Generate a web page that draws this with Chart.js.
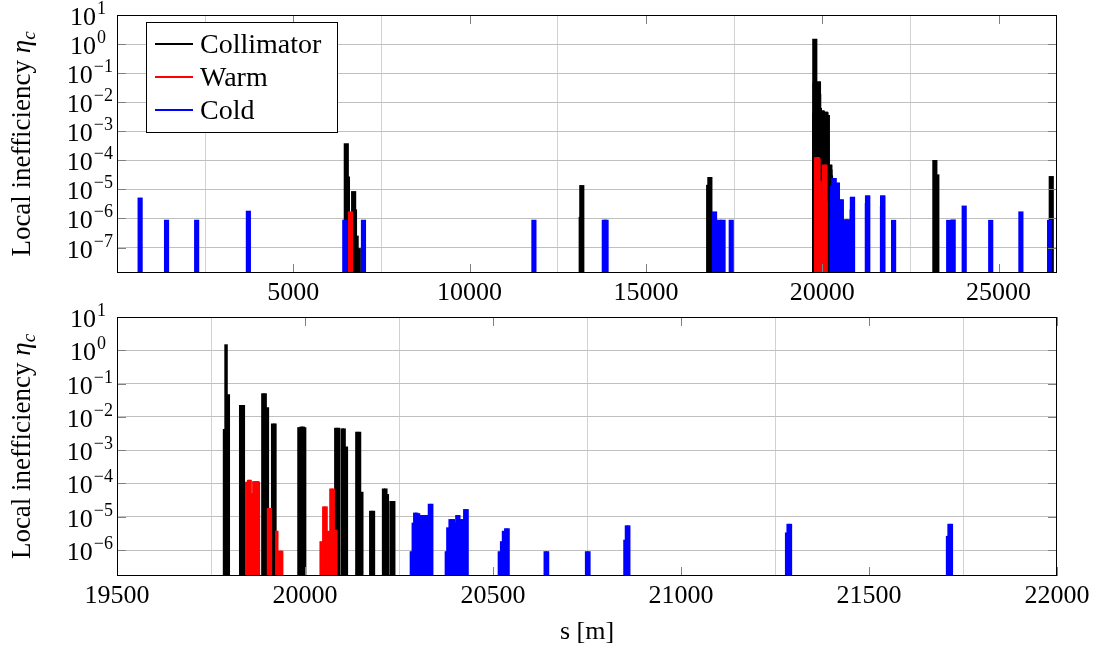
<!DOCTYPE html>
<html>
<head>
<meta charset="utf-8">
<script src="https://cdn.jsdelivr.net/npm/chart.js@4.4.1/dist/chart.umd.min.js"></script>
<style>
  body { margin: 0; background: #fff; }
  #wrap { position: relative; width: 1099px; height: 653px; }
  canvas { position: absolute; left: 0; }
  #overview { top: 0; }
  #zoomed { top: 300px; }
</style>
</head>
<body>
<div id="wrap">
  <canvas id="overview" width="1099" height="310"></canvas>
  <canvas id="zoomed" width="1099" height="353"></canvas>
</div>
<script>
// s [m] and local inefficiency for each element class
const collimatorS = [6503, 6535, 6711, 6735, 6782, 6843, 13165, 13182, 16780, 16814,
  19786, 19790, 19796, 19829, 19836, 19888, 19894, 19900, 19914, 19920,
  19984, 19990, 19995, 19999, 20082, 20089, 20099, 20104, 20110, 20138, 20145, 20151,
  20175, 20182, 20209, 20215, 20219, 20229, 20236, 23195, 23251, 26496]
const collimatorEta = [3.8e-4, 2.7e-5, 8.5e-6, 2e-6, 2.5e-7, 9.3e-8, 1.1e-6, 1.37e-5, 1.4e-5, 2.6e-5,
  4.2e-3, 1.48, 4.7e-2, 2.24e-2, 2.24e-2, 5e-2, 5e-2, 1.9e-2, 6.2e-3, 6.2e-3,
  4.8e-3, 5e-3, 5e-3, 4.8e-3, 4.6e-3, 4.6e-3, 4.4e-3, 4.4e-3, 1.26e-3, 3.5e-3, 3.5e-3, 5.5e-5,
  1.48e-5, 1.48e-5, 6.9e-5, 6.9e-5, 4.7e-5, 2.9e-5, 2.9e-5, 1.0e-4, 3.2e-5, 2.8e-5]

const warmS = [6621, 19845, 19850, 19854, 19859, 19864, 19869, 19874, 19876,
  19903, 19908, 19925, 19931, 19935, 19938, 20043, 20050, 20056, 20063, 20069, 20075, 20082]
const warmEta = [1.7e-6, 1.1e-4, 1.26e-4, 1.26e-4, 5e-5, 1.15e-4, 1.15e-4, 1.15e-4, 1.1e-4,
  1.8e-5, 1.8e-5, 3.7e-6, 9.3e-7, 9.3e-7, 9.3e-7, 1.8e-6, 2e-5, 2e-5, 3.7e-6, 6.9e-5, 6.9e-5, 4e-6]

const coldS = [656, 1405, 2259, 3726, 6460, 6990, 11824, 13820, 13870, 16947, 17074, 17188, 17420,
  20283, 20288, 20292, 20297, 20302, 20307, 20312, 20317, 20322, 20326, 20331, 20337,
  20376, 20380, 20386, 20391, 20395, 20400, 20404, 20409, 20414, 20419, 20425, 20431,
  20517, 20523, 20528, 20534, 20540, 20639, 20645, 20749, 20755, 20851, 20855, 20861,
  21281, 21285, 21291, 21709, 21713, 21719, 22025, 23587, 23715, 24027, 24779, 25635, 26449]
const coldEta = [5.1e-6, 8.8e-7, 8.8e-7, 1.8e-6, 8.8e-7, 8.8e-7, 8.8e-7, 8.8e-7, 8.8e-7, 1.7e-6, 8.8e-7, 8.8e-7, 8.8e-7,
  9e-7, 6.5e-6, 1.3e-5, 1.3e-5, 1.25e-5, 1.1e-5, 1.1e-5, 1.1e-5, 1.1e-5, 1.1e-5, 2.4e-5, 2.4e-5,
  9e-7, 4.7e-6, 8.3e-6, 8.3e-6, 8.3e-6, 6.6e-6, 1.1e-5, 1.1e-5, 8.3e-6, 8.3e-6, 1.66e-5, 1.66e-5,
  9e-7, 1.8e-6, 3.7e-6, 4.4e-6, 4.4e-6, 9e-7, 9e-7, 9e-7, 9e-7, 2e-6, 5.4e-6, 5.4e-6,
  3.3e-6, 6e-6, 6e-6, 2.6e-6, 6e-6, 6e-6, 8.7e-7, 8.7e-7, 9e-7, 2.7e-6, 8.7e-7, 1.7e-6, 8.7e-7]

const seriesNames = ['Collimator', 'Warm', 'Cold']
const seriesColors = ['#000000', '#ff0000', '#0000ff']

const overviewXTicks = [5000, 10000, 15000, 20000, 25000]
const zoomXTicks = [19500, 20000, 20500, 21000, 21500, 22000]
const overviewYExps = [-7, -6, -5, -4, -3, -2, -1, 0, 1]
const zoomYExps = [-6, -5, -4, -3, -2, -1, 0, 1]

Chart.defaults.font.family = '"Liberation Serif"'

function toPoints(xs, ys) {
    return xs.map((s, i) => ({ x: s, y: ys[i] }))
}

function makeDatasets(thickness) {
    const sets = [[collimatorS, collimatorEta], [warmS, warmEta], [coldS, coldEta]]
    // cold drawn on top, collimator at the back
    return sets.map((pair, i) => ({
        label: seriesNames[i],
        data: toPoints(pair[0], pair[1]),
        backgroundColor: seriesColors[i],
        borderWidth: 0,
        barThickness: thickness,
        grouped: false,
        order: 3 - i
    }))
}

// frame, inner ticks, labels with exponents, axis titles, legend
const axisDecor = {
    id: 'axisDecor',
    afterDraw(chart, args, opts) {
        const ctx = chart.ctx
        const a = chart.chartArea
        const xs = chart.scales.x
        const ys = chart.scales.y
        const L = a.left, R = a.right, T = a.top, B = a.bottom
        ctx.save()

        ctx.strokeStyle = '#808080'
        ctx.lineWidth = 1
        ctx.beginPath()
        xs.ticks.forEach(t => {
            const px = Math.round(xs.getPixelForValue(t.value)) + 0.5
            ctx.moveTo(px, B); ctx.lineTo(px, B - 9)
            ctx.moveTo(px, T); ctx.lineTo(px, T + 9)
        })
        ys.ticks.forEach(t => {
            const py = Math.round(ys.getPixelForValue(t.value)) + 0.5
            ctx.moveTo(L, py); ctx.lineTo(L + 9, py)
            ctx.moveTo(R, py); ctx.lineTo(R - 9, py)
        })
        ctx.stroke()

        ctx.strokeStyle = '#000'
        ctx.strokeRect(L + 0.5, T + 0.5, R - L - 1, B - T - 1)

        ctx.fillStyle = '#000'
        ctx.textBaseline = 'alphabetic'
        ctx.font = '26px "Liberation Serif"'
        ctx.textAlign = 'center'
        xs.ticks.forEach(t => {
            ctx.fillText(String(t.value), xs.getPixelForValue(t.value), B + 27)
        })

        ctx.textAlign = 'right'
        ys.ticks.forEach(t => {
            const e = Math.round(Math.log10(t.value))
            const py = ys.getPixelForValue(t.value)
            const exp = e < 0 ? '\u2212' + (-e) : String(e)
            const right = e < 0 ? 113 : 106
            ctx.font = '18px "Liberation Serif"'
            ctx.fillText(exp, right, py - 1)
            const w = ctx.measureText(exp).width
            ctx.font = '26px "Liberation Serif"'
            ctx.fillText('10', right - w - 1, py + 10)
        })

        if (opts.xTitle) {
            ctx.textAlign = 'center'
            ctx.font = '26px "Liberation Serif"'
            ctx.fillText(opts.xTitle, (L + R) / 2, B + 63)
        }

        if (opts.legend) {
            ctx.fillStyle = '#fff'
            ctx.fillRect(147, 23, 190, 109)
            ctx.strokeStyle = '#000'
            ctx.lineWidth = 1
            ctx.strokeRect(146.5, 22.5, 191, 110)
            const rows = [44, 77, 110]
            ctx.textAlign = 'left'
            ctx.font = '28px "Liberation Serif"'
            chart.data.datasets.forEach((ds, i) => {
                ctx.strokeStyle = ds.backgroundColor
                ctx.lineWidth = 2
                ctx.beginPath()
                ctx.moveTo(155, rows[i]); ctx.lineTo(193, rows[i])
                ctx.stroke()
                ctx.fillStyle = '#000'
                ctx.fillText(ds.label, 200, rows[i] + 9)
            })
        }

        // rotated y title: Local inefficiency eta_c
        ctx.translate(30, (T + B) / 2)
        ctx.rotate(-Math.PI / 2)
        ctx.textAlign = 'left'
        ctx.fillStyle = '#000'
        const main = 'Local inefficiency '
        ctx.font = '27px "Liberation Serif"'
        const w1 = ctx.measureText(main).width
        ctx.font = 'italic 27px "Liberation Serif"'
        const w2 = ctx.measureText('\u03b7').width
        ctx.font = 'italic 19px "Liberation Serif"'
        const w3 = ctx.measureText('c').width
        const x0 = -(w1 + w2 + w3) / 2
        ctx.font = '27px "Liberation Serif"'
        ctx.fillText(main, x0, 0)
        ctx.font = 'italic 27px "Liberation Serif"'
        ctx.fillText('\u03b7', x0 + w1, 0)
        ctx.font = 'italic 19px "Liberation Serif"'
        ctx.fillText('c', x0 + w1 + w2, 5)

        ctx.restore()
    }
}

function makeChart(id, opt) {
    return new Chart(document.getElementById(id), {
        type: 'bar',
        data: { datasets: makeDatasets(opt.thickness) },
        options: {
            responsive: false,
            animation: false,
            events: [],
            layout: { padding: { left: 0, top: opt.padTop, right: 42, bottom: 0 } },
            scales: {
                x: {
                    type: 'linear',
                    min: opt.xMin,
                    max: opt.xMax,
                    offset: false,
                    afterBuildTicks: s => { s.ticks = opt.xTicks.map(v => ({ value: v })) },
                    afterFit: s => { s.height = opt.xHeight },
                    ticks: { display: false },
                    grid: { color: '#d2d2d2', lineWidth: 1, drawTicks: false },
                    border: { display: false }
                },
                y: {
                    type: 'logarithmic',
                    min: Math.pow(10, opt.yMinExp),
                    max: 10,
                    afterBuildTicks: s => { s.ticks = opt.yExps.map(e => ({ value: Math.pow(10, e) })) },
                    afterFit: s => { s.width = 117 },
                    ticks: { display: false },
                    grid: { color: '#c0c0c0', lineWidth: 1, drawTicks: false },
                    border: { display: false }
                }
            },
            plugins: {
                legend: { display: false },
                tooltip: { enabled: false },
                axisDecor: { legend: opt.legend, xTitle: opt.xTitle }
            }
        },
        plugins: [axisDecor]
    })
}

makeChart('overview', {
    thickness: 4.5, padTop: 15, xHeight: 37,
    xMin: 0, xMax: 26659, xTicks: overviewXTicks,
    yMinExp: -7.877, yExps: overviewYExps,
    legend: true, xTitle: null
})

makeChart('zoomed', {
    thickness: 2.8, padTop: 17, xHeight: 77,
    xMin: 19500, xMax: 22000, xTicks: zoomXTicks,
    yMinExp: -6.78, yExps: zoomYExps,
    legend: false, xTitle: 's [m]'
})
</script>
</body>
</html>
